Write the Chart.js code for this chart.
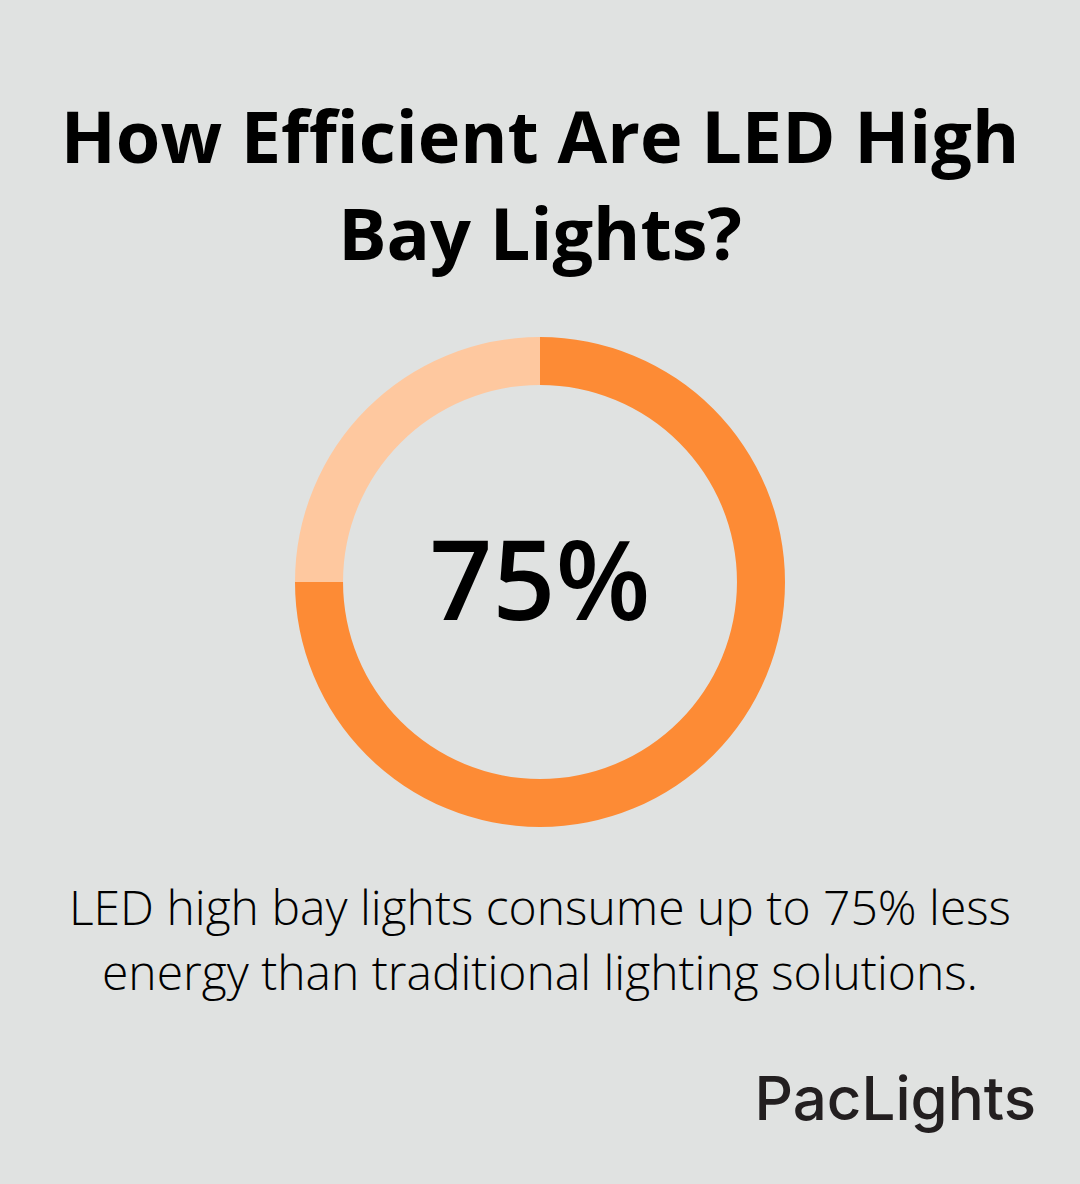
<!DOCTYPE html>
<html>
<head>
<meta charset="utf-8">
<script src="https://cdn.jsdelivr.net/npm/chart.js@4"></script>
<style>
  html, body { margin: 0; padding: 0; }
  body { width: 1080px; height: 1184px; background: #e0e2e1; position: relative; overflow: hidden; font-family: "Open Sans", sans-serif; }
  #title { position: absolute; left: 0; top: 87px; width: 1080px; text-align: center; font-weight: 700; font-size: 72px; line-height: 97px; color: #000; }
  #chartWrap { position: absolute; left: 295px; top: 337px; width: 490px; height: 490px; }
  #center { position: absolute; left: 0; top: 507px; width: 1080px; text-align: center; font-weight: 600; font-size: 110px; line-height: 140px; color: #000; }
  #sub { position: absolute; left: 0; top: 874px; width: 1080px; text-align: center; font-weight: 300; font-size: 48px; line-height: 65px; color: #000; }
  #logo { position: absolute; right: 44px; top: 1063px; font-family: "Inter", sans-serif; font-weight: 500; font-size: 60px; letter-spacing: 0px; line-height: 70px; color: #231f20; }
</style>
</head>
<body>
<div id="title">How Efficient Are LED High<br>Bay Lights?</div>
<div id="chartWrap"><canvas id="c" width="490" height="490"></canvas></div>
<div id="center">75%</div>
<div id="sub">LED high bay lights consume up to 75% less<br>energy than traditional lighting solutions.</div>
<div id="logo">PacLights</div>
<script>
const categories = ["LED energy savings", "Remaining"];
const values = [75, 25];
const colors = ["#fd8b35", "#fec89f"];

new Chart(document.getElementById("c"), {
  type: "doughnut",
  data: {
    labels: categories,
    datasets: [{ data: values, backgroundColor: colors, borderWidth: 0, hoverOffset: 0 }]
  },
  options: {
    responsive: false,
    animation: false,
    cutout: "80.4%",
    plugins: { legend: { display: false }, tooltip: { enabled: false } },
    layout: { padding: 0 }
  }
});
</script>
</body>
</html>
